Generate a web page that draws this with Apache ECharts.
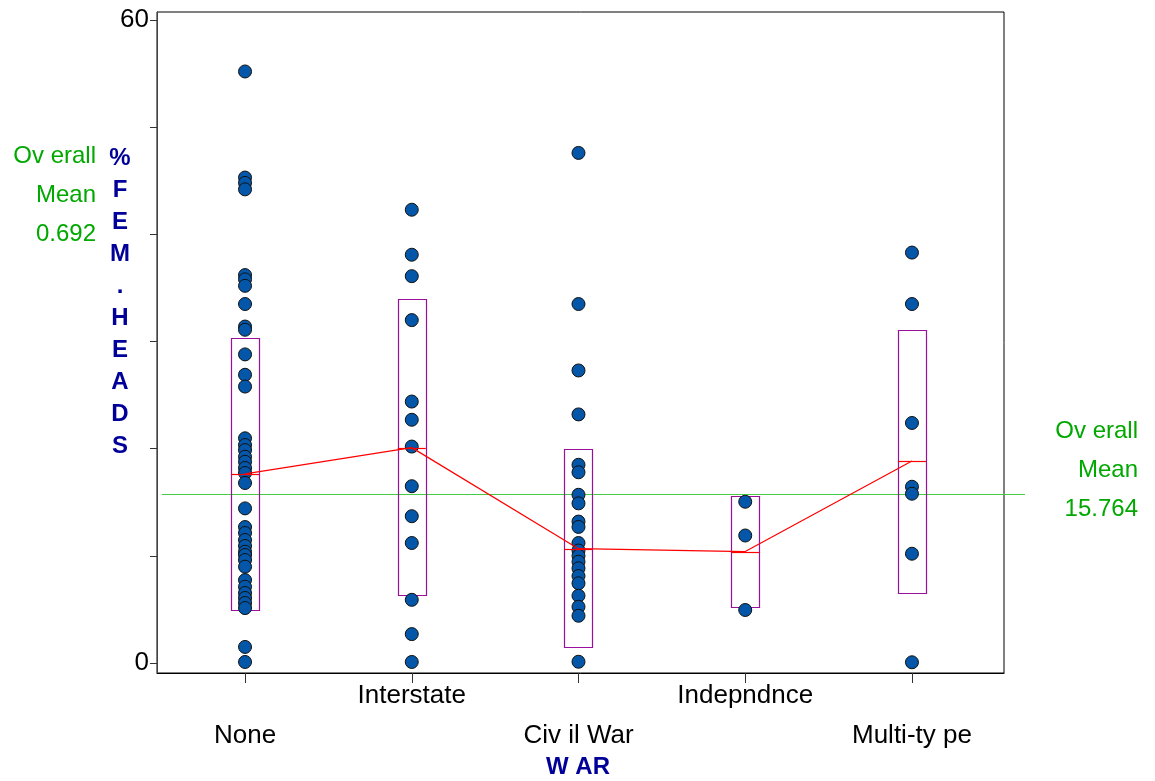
<!DOCTYPE html>
<html>
<head>
<meta charset="utf-8">
<script src="https://cdn.jsdelivr.net/npm/echarts@6/dist/echarts.min.js"></script>
<style>
html,body{margin:0;padding:0;background:#fff;}
#chart{width:1155px;height:781px;}
</style>
</head>
<body>
<div id="chart"></div>
<script>
// ---- data ----
const categories = ['None', 'Interstate', 'Civ il War', 'Indepndnce', 'Multi-ty pe'];
const noneVals = [55.2, 45.3, 44.8, 44.2, 36.2, 35.8, 35.2, 33.5, 31.4, 31.1, 28.8, 26.9, 25.8,
  20.97, 20.34, 19.87, 19.25, 18.78, 18.2, 17.73, 16.8, 14.43, 12.69, 12.13, 11.48, 10.92,
  10.39, 10.08, 9.61, 8.99, 7.74, 7.12, 6.53, 6.07, 5.6, 5.13, 1.5, 0.1];
const interstateVals = [42.3, 38.1, 36.1, 32.0, 24.4, 22.7, 20.2, 16.5, 13.7, 11.2, 5.9, 2.7, 0.1];
const civilWarVals = [47.6, 33.5, 27.3, 23.2, 18.5, 17.8, 15.7, 14.9, 13.2, 12.7, 11.2, 10.5,
  10.0, 9.45, 8.84, 8.12, 7.44, 6.28, 5.25, 4.41, 0.12];
const indepVals = [15.05, 11.9, 4.95];
const multiVals = [38.3, 33.5, 22.4, 16.45, 15.8, 10.2, 0.07];
const groupMeans = [17.65, 20.1, 10.67, 10.4, 18.85];
const boxLow = [4.95, 6.35, 1.46, 5.2, 6.56];
const boxHigh = [30.3, 34.0, 19.94, 15.58, 31.1];
const overallMean = 15.764;
const leftNote = ['Ov erall', 'Mean', '0.692'];
const rightNote = ['Ov erall', 'Mean', '15.764'];
const yTicks = [0, 10, 20, 30, 40, 50, 60];
const yLabels = [0, 60];
const yTitle = ['%', 'F', 'E', 'M', '.', 'H', 'E', 'A', 'D', 'S'];
const xTitle = 'W AR';

// ---- chart ----
const groups = [noneVals, interstateVals, civilWarVals, indepVals, multiVals];
const FONT = '"Liberation Sans", Arial, sans-serif';
const chart = echarts.init(document.getElementById('chart'), null, {renderer: 'canvas'});
const HW = 14;

const scatterSeries = groups.map((vals, i) => ({
  type: 'scatter',
  name: categories[i],
  data: vals.map(v => [i, v]),
  symbol: 'circle',
  symbolSize: 13,
  itemStyle: {color: '#0456a8', borderColor: '#111', borderWidth: 1, opacity: 1},
  z: 5,
  silent: true
}));

const option = {
  animation: false,
  backgroundColor: '#fff',
  grid: {left: 157, top: 12, right: 151, bottom: 108, show: true, borderColor: '#000', borderWidth: 1, backgroundColor: 'transparent'},
  xAxis: {
    type: 'value', min: -0.528, max: 4.552,
    splitLine: {show: false},
    axisLine: {show: true, onZero: false, lineStyle: {color: '#000', width: 1}},
    axisTick: {show: true, customValues: [0, 1, 2, 3, 4], length: 10, lineStyle: {color: '#333'}},
    axisLabel: {
      show: true, customValues: [0, 1, 2, 3, 4], margin: 3,
      fontFamily: FONT, fontSize: 26, color: '#000', lineHeight: 40,
      formatter: v => { const i = Math.round(v); return i % 2 ? categories[i] : '\n' + categories[i]; }
    }
  },
  yAxis: {
    type: 'value', min: -0.93, max: 60.75,
    splitLine: {show: false},
    axisLine: {show: true, onZero: false, lineStyle: {color: '#444', width: 1}},
    axisTick: {show: true, customValues: yTicks, length: 7, lineStyle: {color: '#333'}},
    axisLabel: {show: true, customValues: yLabels, margin: 8, fontFamily: FONT, fontSize: 26, color: '#000'}
  },
  series: [
    {
      type: 'custom', name: 'overall', z: 1, clip: false, silent: true,
      data: [[overallMean]],
      renderItem: (params, api) => {
        const cs = params.coordSys;
        const y = Math.round(api.coord([0, api.value(0)])[1]) + 0.5;
        return {type: 'line', shape: {x1: cs.x + 5, y1: y, x2: cs.x + cs.width + 21, y2: y},
          style: {stroke: '#44cc44', lineWidth: 1}};
      }
    },
    {
      type: 'custom', name: 'boxes', z: 2, silent: true,
      data: categories.map((c, i) => [i, boxLow[i], boxHigh[i]]),
      renderItem: (params, api) => {
        const lo = api.coord([api.value(0), api.value(1)]);
        const hi = api.coord([api.value(0), api.value(2)]);
        const x0 = Math.round(lo[0] - HW) + 0.5;
        const y0 = Math.round(hi[1]) + 0.5;
        return {type: 'rect', shape: {x: x0, y: y0, width: 2 * HW, height: Math.round(lo[1] - hi[1])},
          style: {fill: 'none', stroke: '#9a109a', lineWidth: 1.2}};
      }
    },
    ...scatterSeries,
    {
      type: 'line', name: 'means', z: 8, silent: true,
      data: groupMeans.map((m, i) => [i, m]),
      symbol: 'none', lineStyle: {color: '#ff0000', width: 1.2}
    },
    {
      type: 'custom', name: 'meanTicks', z: 8, silent: true,
      data: groupMeans.map((m, i) => [i, m]),
      renderItem: (params, api) => {
        const p = api.coord([api.value(0), api.value(1)]);
        const y = Math.round(p[1]) + 0.5;
        return {type: 'line', shape: {x1: p[0] - HW, y1: y, x2: p[0] + HW, y2: y},
          style: {stroke: '#ff0000', lineWidth: 1.2}};
      }
    }
  ],
  graphic: [
    {type: 'text', x: 96, y: 137, style: {text: leftNote.join('\n'), align: 'right', verticalAlign: 'top',
      fontFamily: FONT, fontSize: 24, lineHeight: 39, fill: '#00a800'}},
    {type: 'text', x: 1138, y: 412, style: {text: rightNote.join('\n'), align: 'right', verticalAlign: 'top',
      fontFamily: FONT, fontSize: 24, lineHeight: 39, fill: '#00a800'}},
    {type: 'text', x: 120, y: 142, style: {text: yTitle.join('\n'), align: 'center', verticalAlign: 'top',
      fontFamily: FONT, fontSize: 24, fontWeight: 'bold', lineHeight: 32, fill: '#000099'}},
    {type: 'text', x: 578, y: 767, style: {text: xTitle, align: 'center', verticalAlign: 'middle',
      fontFamily: FONT, fontSize: 24, fontWeight: 'bold', fill: '#000099'}}
  ]
};
chart.setOption(option);
</script>
</body>
</html>
